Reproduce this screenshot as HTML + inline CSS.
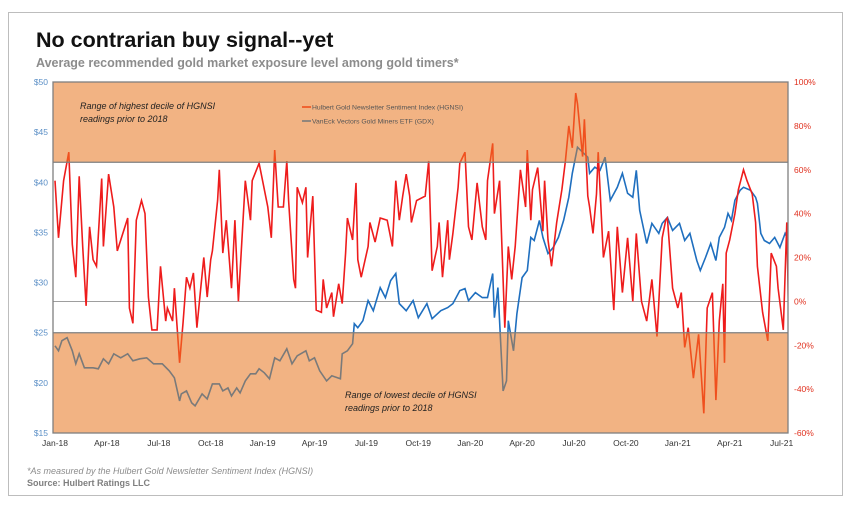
<!DOCTYPE html>
<html><head><meta charset="utf-8"><style>
body{margin:0;background:#fff;width:851px;height:509px;overflow:hidden;font-family:"Liberation Sans",sans-serif}
svg text{font-family:"Liberation Sans",sans-serif}
</style></head><body>
<svg id="chart" width="851" height="509" viewBox="0 0 851 509" xmlns="http://www.w3.org/2000/svg">
<rect x="8.5" y="12.5" width="834" height="483" fill="#fff" stroke="#bdbdbd" stroke-width="1"/>
<text x="36" y="47" font-size="21.5" font-weight="bold" fill="#111">No contrarian buy signal--yet</text>
<text x="36" y="67" font-size="12.5" font-weight="bold" fill="#8c8c8c">Average recommended gold market exposure level among gold timers*</text>
<g id="plot"></g>
<text x="27" y="474" font-size="9" font-style="italic" fill="#8c8c8c">*As measured by the Hulbert Gold Newsletter Sentiment Index (HGNSI)</text>
<text x="27" y="486" font-size="9" font-weight="bold" fill="#7f7f7f">Source: Hulbert Ratings LLC</text>
</svg>
<script>
// months since Jan-2018
const hgnsiT=[0,0.2,0.5,0.8,1.0,1.2,1.4,1.6,1.8,2.0,2.2,2.4,2.7,2.8,3.1,3.4,3.6,4.2,4.3,4.5,4.7,5.0,5.2,5.4,5.6,5.9,6.1,6.4,6.5,6.8,6.9,7.2,7.4,7.6,7.8,8.0,8.2,8.4,8.6,8.8,9.0,9.1,9.4,9.5,9.7,9.9,10.2,10.4,10.6,11.0,11.3,11.4,11.8,12.3,12.5,12.7,12.9,13.2,13.4,13.5,13.8,13.9,14.0,14.3,14.5,14.6,14.9,15.1,15.4,15.5,15.7,16.0,16.1,16.4,16.6,16.8,16.9,17.2,17.4,17.5,17.7,18.1,18.2,18.5,18.8,19.2,19.5,19.7,19.9,20.1,20.3,20.5,20.6,20.9,21.4,21.6,21.8,22.1,22.2,22.4,22.7,22.8,23.0,23.3,23.4,23.7,23.9,24.1,24.4,24.7,24.9,25.0,25.3,25.4,25.7,26.0,26.2,26.4,26.6,26.9,27.2,27.3,27.5,27.6,27.9,28.2,28.3,28.5,28.7,29.0,29.3,29.5,29.7,29.9,30.1,30.2,30.5,30.6,30.8,30.9,31.1,31.3,31.4,31.7,32.0,32.3,32.5,32.8,33.1,33.4,33.6,33.9,34.2,34.5,34.8,35.1,35.3,35.4,35.7,36.0,36.2,36.4,36.6,36.9,37.2,37.5,37.7,38.0,38.2,38.4,38.6,38.7,38.8,39.0,39.3,39.5,39.8,40.0,40.3,40.5,40.6,40.9,41.2,41.4,41.7,41.8,42.1,42.3,42.4];
const hgnsiV=[55,29,55,68,26,11,57,25,-2,34,19,16,56,25,58,43,23,38,-3,-10,37,46,40,2,-13,-13,16,-9,-3,-9,6,-28,-10,11,6,13,-12,4,20,2,19,23,46,60,22,37,6,37,0,55,37,55,63,43,29,69,43,43,64,46,10,6,52,45,52,20,48,-4,-5,10,-3,4,-7,8,-1,22,38,28,54,19,11,25,36,27,38,37,25,55,37,48,58,48,36,46,48,64,14,25,36,11,37,19,31,52,63,68,34,28,54,34,28,55,72,40,55,-12,25,10,25,60,43,69,37,51,61,32,55,28,16,36,51,64,80,70,95,90,66,83,48,43,31,49,68,20,32,-4,34,4,29,0,31,0,-9,10,-16,29,37,38,6,-3,4,-21,-12,-35,-15,-51,-3,4,-45,-9,8,-28,22,28,40,51,60,55,49,36,16,-5,-18,22,16,6,-13,36,-4];
const gdxT=[0,0.2,0.4,0.7,1.0,1.2,1.4,1.7,2.2,2.5,2.8,3.1,3.4,3.8,4.2,4.5,4.9,5.3,5.7,6.2,6.6,6.9,7.2,7.3,7.6,7.9,8.1,8.5,8.8,9.1,9.5,9.7,10.0,10.2,10.5,10.7,11.0,11.3,11.6,11.8,12.1,12.4,12.7,13.0,13.4,13.7,14.0,14.5,14.7,15.0,15.3,15.7,16.0,16.5,16.6,16.9,17.2,17.3,17.5,17.8,18.1,18.4,18.8,19.1,19.4,19.7,19.9,20.3,20.7,21.0,21.5,21.8,22.3,22.7,23.0,23.4,23.7,23.9,24.3,24.7,25.0,25.3,25.4,25.6,25.9,26.1,26.2,26.5,26.7,27.0,27.3,27.5,27.7,28.0,28.2,28.5,28.8,29.1,29.4,29.7,29.9,30.2,30.5,30.8,30.9,31.2,31.5,31.8,32.1,32.5,32.8,33.1,33.4,33.6,33.8,34.2,34.5,34.9,35.1,35.4,35.7,36.1,36.4,36.7,37.1,37.3,37.6,37.9,38.2,38.4,38.7,38.9,39.1,39.3,39.6,39.8,40.2,40.5,40.6,40.8,41.0,41.3,41.6,41.9,42.2,42.4];
const gdxV=[23.7,23.2,24.2,24.5,23.2,21.9,22.9,21.5,21.5,21.4,22.4,21.9,22.9,22.5,22.9,22.2,22.4,22.5,21.9,21.9,21.2,20.5,18.2,18.9,19.2,18.0,17.7,18.9,18.4,19.9,19.9,19.2,19.5,18.7,19.5,19.0,20.2,20.9,20.9,21.4,21.0,20.4,22.5,22.2,23.4,21.9,22.7,23.2,22.2,22.5,21.2,20.2,20.7,20.4,22.9,23.2,23.9,25.9,25.5,26.2,28.2,27.2,29.5,28.5,30.2,30.9,27.9,27.2,28.2,26.5,27.9,26.4,27.2,27.5,27.9,29.2,29.4,28.2,29.0,28.5,28.5,30.9,26.5,29.5,19.2,20.2,26.2,23.2,26.9,30.5,31.2,34.5,34.2,36.2,34.5,32.9,33.5,34.5,36.2,38.5,40.9,43.5,43.0,42.5,40.9,41.5,41.2,42.5,38.2,39.5,40.9,38.9,38.5,41.2,37.2,33.9,35.9,34.9,35.9,36.5,35.2,35.9,34.2,34.9,32.2,31.2,32.5,33.9,32.2,34.5,35.5,36.9,36.2,38.2,39.2,39.5,39.2,38.5,37.9,34.9,34.2,33.9,34.5,33.5,34.9,34.2];
const leftTicks=["$50","$45","$40","$35","$30","$25","$20","$15"];
const leftTickVals=[50,45,40,35,30,25,20,15];
const rightTicks=["100%","80%","60%","40%","20%","0%","-20%","-40%","-60%"];
const rightTickVals=[100,80,60,40,20,0,-20,-40,-60];
const xLabels=["Jan-18","Apr-18","Jul-18","Oct-18","Jan-19","Apr-19","Jul-19","Oct-19","Jan-20","Apr-20","Jul-20","Oct-20","Jan-21","Apr-21","Jul-21"];
const xLabelMonths=[0,3,6,9,12,15,18,21,24,27,30,33,36,39,42];
const bandHigh=42, bandLow=25;

const L=53,R=788,T=82,B=433;
const xs=t=>55+t*17.3;
const yL=v=>T+(50-v)*(B-T)/35;
const yR=v=>T+(100-v)*(B-T)/160;
const NS="http://www.w3.org/2000/svg";
const g=document.getElementById('plot');
function mk(tag,attrs,parent){const e=document.createElementNS(NS,tag);for(const k in attrs)e.setAttribute(k,attrs[k]);(parent||g).appendChild(e);return e;}

const defs=mk('defs',{});
const cw=mk('clipPath',{id:'clipWhite'},defs);
mk('rect',{x:L,y:yL(bandHigh),width:R-L,height:yL(bandLow)-yL(bandHigh)},cw);
const cb=mk('clipPath',{id:'clipBands'},defs);
mk('rect',{x:L,y:T-10,width:R-L,height:yL(bandHigh)-T+10},cb);
mk('rect',{x:L,y:yL(bandLow),width:R-L,height:B-yL(bandLow)+10},cb);

let e;
e=mk('rect',{x:L,y:T,width:R-L,height:B-T,fill:'#f2b383'});


e=mk('rect',{x:L,y:yL(bandHigh),width:R-L,height:yL(bandLow)-yL(bandHigh),fill:'#fff'});



leftTickVals.forEach((v,i)=>{
  const t=mk('text',{x:L-5,y:yL(v)+3,'font-size':8.5,fill:'#5b8fc6','text-anchor':'end'});
  t.textContent=leftTicks[i];
  
  
});
rightTickVals.forEach((v,i)=>{
  const t=mk('text',{x:R+6,y:yR(v)+3,'font-size':8.5,fill:'#e0301e'});
  t.textContent=rightTicks[i];
  
  
});
xLabelMonths.forEach((m,i)=>{
  const t=mk('text',{x:xs(m),y:446,'font-size':8.5,fill:'#333','text-anchor':'middle'});
  t.textContent=xLabels[i];
  
  
});

e=mk('line',{x1:L,x2:R,y1:yR(0),y2:yR(0),stroke:'#7f7f7f','stroke-width':0.8});



function pathD(T_,V_,yf){return T_.map((t,i)=>(i?'L':'M')+xs(t).toFixed(1)+','+yf(V_[i]).toFixed(1)).join('');}
const dH=pathD(hgnsiT,hgnsiV,yR), dG=pathD(gdxT,gdxV,yL);

e=mk('path',{d:dG,fill:'none',stroke:'#1f6fbf','stroke-width':1.6,'clip-path':'url(#clipWhite)'});


e=mk('path',{d:dG,fill:'none',stroke:'#7a7a7a','stroke-width':1.6,'clip-path':'url(#clipBands)'});


e=mk('path',{d:dH,fill:'none',stroke:'#ee1c1c','stroke-width':1.6,'clip-path':'url(#clipWhite)'});


e=mk('path',{d:dH,fill:'none',stroke:'#f0501e','stroke-width':1.6,'clip-path':'url(#clipBands)'});



e=mk('line',{x1:L,x2:R,y1:yL(bandHigh),y2:yL(bandHigh),stroke:'#7f7f7f','stroke-width':1.3});


e=mk('line',{x1:L,x2:R,y1:yL(bandLow),y2:yL(bandLow),stroke:'#7f7f7f','stroke-width':1.3});


e=mk('rect',{x:L,y:T,width:R-L,height:B-T,fill:'none',stroke:'#7f7f7f','stroke-width':1.3});



function txt(x,y,s,name,attrs){const t=mk('text',Object.assign({x:x,y:y},attrs));t.textContent=s;return t;}
const ann={'font-size':9,'font-style':'italic',fill:'#222'};
txt(80,109,'Range of highest decile of HGNSI','high-band-label',ann);
txt(80,122,'readings prior to 2018','high-band-label-2',ann);
txt(345,398,'Range of lowest decile of HGNSI','low-band-label',ann);
txt(345,411,'readings prior to 2018','low-band-label-2',ann);

e=mk('line',{x1:302,x2:311,y1:107,y2:107,stroke:'#f0501e','stroke-width':1.6});


txt(312,109.5,'Hulbert Gold Newsletter Sentiment Index (HGNSI)','legend-hgnsi',{'font-size':6.8,fill:'#555'});
e=mk('line',{x1:302,x2:311,y1:121,y2:121,stroke:'#7a7a7a','stroke-width':1.6});


txt(312,123.5,'VanEck Vectors Gold Miners ETF (GDX)','legend-gdx',{'font-size':6.8,fill:'#555'});
</script>
</body></html>
